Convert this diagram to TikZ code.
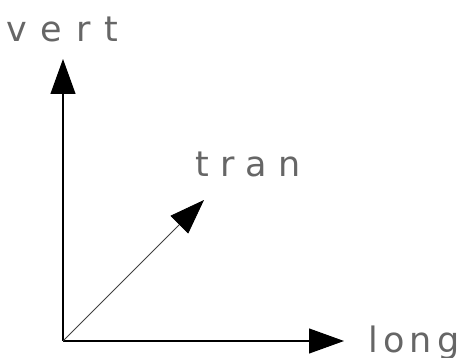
\documentclass[tikz,border=0pt]{standalone}
\usepackage{fontspec}
\setmainfont{DejaVu Sans}
\newfontfamily\spwide{DejaVu Sans}[LetterSpace=40]
\newfontfamily\spmid{DejaVu Sans}[LetterSpace=32]
\newfontfamily\spnarrow{DejaVu Sans}[LetterSpace=15]
\usetikzlibrary{arrows.meta}
\begin{document}
\begin{tikzpicture}[x=1pt,y=-1pt,
  axis/.style={line width=1.1pt,-{Triangle[length=35pt,width=25pt,color=black]}},
  lbl/.style={anchor=base west,inner sep=0pt,text=black!60}]
\useasboundingbox (0,0) rectangle (467,358);
\coordinate (o) at (63,341);
\coordinate (v) at (63,59);
\coordinate (l) at (344,341);
\coordinate (t) at (204,200);
\draw[axis] (o) -- (v);
\draw[axis] (o) -- (l);
\draw[axis,line width=0.8pt,draw=black!75] (o) -- (t);
\node[lbl] (vert) at (6,42) {\spwide\fontsize{35}{35}\selectfont vert};
\node[lbl] (tran) at (195,177) {\spmid\fontsize{35}{35}\selectfont tran};
\node[lbl] (long) at (368,353) {\spnarrow\fontsize{35}{35}\selectfont long};
\end{tikzpicture}
\end{document}
